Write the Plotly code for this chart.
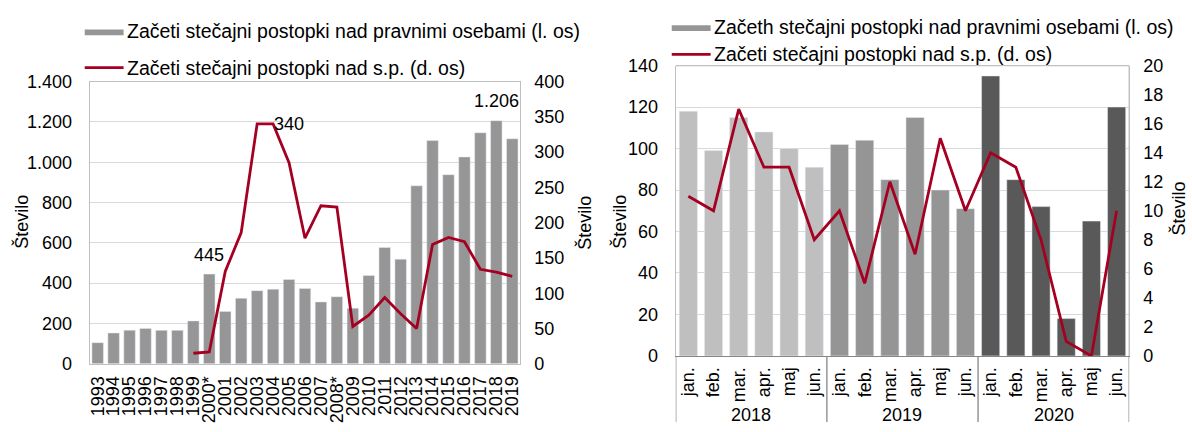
import plotly.graph_objects as go

# ---------------- data ----------------
years = ["1993", "1994", "1995", "1996", "1997", "1998", "1999", "2000*", "2001", "2002",
         "2003", "2004", "2005", "2006", "2007", "2008*", "2009", "2010", "2011", "2012",
         "2013", "2014", "2015", "2016", "2017", "2018", "2019"]
legal_persons = [105, 153, 167, 175, 166, 166, 213, 445, 260, 325,
                 363, 370, 418, 374, 307, 333, 276, 438, 577, 519,
                 883, 1107, 938, 1026, 1146, 1206, 1116]
sole_prop = [None, None, None, None, None, None, 15, 17, 131, 186,
             340, 340, 285, 178, 224, 222, 53, 69, 94, 71,
             50, 169, 179, 173, 134, 130, 124]

months = ["jan.", "feb.", "mar.", "apr.", "maj", "jun."] * 3
month_years = ["2018"] * 6 + ["2019"] * 6 + ["2020"] * 6
year_groups = ["2018", "2019", "2020"]
legal_monthly = [118, 99, 115, 108, 100, 91,
                 102, 104, 85, 115, 80, 71,
                 135, 85, 72, 18, 65, 120]
sp_monthly = [11, 10, 17, 13, 13, 8,
              10, 5, 12, 7, 15, 10,
              14, 13, 8, 1, 0, 10]

legend_bar = "Začeti stečajni postopki nad pravnimi osebami (l. os)"
legend_bar_r = "Začeth stečajni postopki nad pravnimi osebami (l. os)"
legend_line = "Začeti stečajni postopki nad s.p. (d. os)"
axis_title = "Število"

# ---------------- style ----------------
W, H = 1192, 432
FONT = "Liberation Sans, Arial, sans-serif"
FS = 18
LEG_FS = 19.5
BAR_GREY = "#969696"
YEAR_COLORS = {"2018": "#BFBFBF", "2019": "#959595", "2020": "#595959"}
RED = "#A50021"
LINE_W = 2.8
GRID = "#D9D9D9"
FRAME = "#BFBFBF"
STANDOFF = 13


def px_x(x):
    return x / W


def px_y(y):
    return 1 - y / H


L_X = [px_x(88), px_x(520)]
L_Y = [px_y(371), px_y(75)]
R_X = [px_x(676), px_x(1131)]
R_Y = [px_y(362.7), px_y(58.3)]

fig = go.Figure()

# Left chart (numeric positions, year labels as tick text)
lx = list(range(len(years)))
fig.add_trace(go.Bar(x=lx, y=legal_persons, marker_color=BAR_GREY, xaxis="x", yaxis="y",
                     showlegend=False))
fig.add_trace(go.Scatter(x=lx, y=sole_prop, mode="lines", line=dict(color=RED, width=LINE_W),
                         xaxis="x", yaxis="y2", showlegend=False, connectgaps=False))

# Right chart
xi = list(range(len(months)))
fig.add_trace(go.Bar(x=xi, y=legal_monthly, marker_color=[YEAR_COLORS[y] for y in month_years],
                     xaxis="x3", yaxis="y3", showlegend=False))
fig.add_trace(go.Scatter(x=xi, y=sp_monthly, mode="lines", line=dict(color=RED, width=LINE_W),
                         xaxis="x3", yaxis="y4", showlegend=False))

tickfont = dict(family=FONT, size=FS, color="#000000")

fig.update_layout(
    width=W, height=H,
    margin=dict(l=0, r=0, t=0, b=0),
    paper_bgcolor="white", plot_bgcolor="white",
    separators=",.",
    bargap=0.28,
    font=dict(family=FONT, size=FS, color="#000000"),
    xaxis=dict(domain=L_X, anchor="y", range=[-0.5, len(years) - 0.5], tickvals=lx, ticktext=years,
               tickangle=-90, tickfont=tickfont, ticklabelstandoff=4,
               showline=True, linecolor=FRAME, linewidth=1.3, mirror=True, ticks="", showgrid=False,
               zeroline=False),
    yaxis=dict(domain=L_Y, anchor="x", range=[0, 1400], dtick=200, tickformat=",d", tickfont=tickfont,
               showgrid=True, gridcolor=GRID, gridwidth=1.3, showline=True, linecolor=FRAME, linewidth=1.3,
               mirror=True, ticks="", zeroline=False, ticklabelstandoff=STANDOFF),
    yaxis2=dict(overlaying="y", side="right", anchor="x", range=[0, 400], dtick=50, tickfont=tickfont,
                showgrid=False, zeroline=False, ticks="", ticklabelstandoff=STANDOFF),
    xaxis3=dict(domain=R_X, anchor="y3", range=[-0.5, len(months) - 0.5], tickvals=xi, ticktext=months,
                tickangle=-90, tickfont=tickfont, ticklabelstandoff=3, showline=True, linecolor="#868686",
                linewidth=1.3, ticks="", showgrid=False, zeroline=False),
    yaxis3=dict(domain=R_Y, anchor="x3", range=[0, 140], dtick=20, tickfont=tickfont,
                showgrid=True, gridcolor=GRID, gridwidth=1.3, showline=True, linecolor=FRAME, linewidth=1.3,
                mirror=True, ticks="", zeroline=False, ticklabelstandoff=STANDOFF),
    yaxis4=dict(overlaying="y3", side="right", anchor="x3", range=[0, 20], dtick=2, tickfont=tickfont,
                showgrid=False, zeroline=False, ticks="", ticklabelstandoff=STANDOFF),
)

shapes = []
ann = []

# right chart frame top / right
shapes.append(dict(type="line", xref="x3", yref="paper", x0=17.5, x1=17.5, y0=R_Y[0], y1=R_Y[1],
                   line=dict(color=FRAME, width=1.3)))
shapes.append(dict(type="line", xref="x3", yref="paper", x0=-0.5, x1=17.5, y0=R_Y[1], y1=R_Y[1],
                   line=dict(color=FRAME, width=1.3)))

# year group separators and labels
for g, yr in enumerate(year_groups):
    shapes.append(dict(type="line", xref="x3", yref="paper", x0=g * 6 - 0.5, x1=g * 6 - 0.5,
                       y0=0, y1=R_Y[0], line=dict(color="#868686", width=1.3)))
    ann.append(dict(xref="x3", yref="paper", x=g * 6 + 2.5, y=px_y(425), text=yr, showarrow=False,
                    font=dict(family=FONT, size=FS), xanchor="center", yanchor="middle"))
shapes.append(dict(type="line", xref="x3", yref="paper", x0=17.5, x1=17.5, y0=0, y1=R_Y[0],
                   line=dict(color="#868686", width=1.3)))

# axis titles
for x, y in [(20, 222), (585, 223), (620, 222), (1180, 208)]:
    ann.append(dict(xref="paper", yref="paper", x=px_x(x), y=px_y(y), text=axis_title, textangle=-90,
                    showarrow=False, font=dict(family=FONT, size=FS), xanchor="center", yanchor="middle",
                    borderpad=0))

# data labels (left chart)
fmt = lambda v: f"{v:,}".replace(",", ".")
i2000 = years.index("2000*")
ann.append(dict(xref="x", yref="y", x=i2000, y=legal_persons[i2000], text=fmt(legal_persons[i2000]),
                showarrow=False, yanchor="bottom", yshift=7, font=dict(family=FONT, size=FS)))
i2018 = years.index("2018")
ann.append(dict(xref="x", yref="y", x=i2018, y=legal_persons[i2018], text=fmt(legal_persons[i2018]),
                showarrow=False, yanchor="bottom", yshift=8, font=dict(family=FONT, size=FS)))
i2004 = years.index("2004")
ann.append(dict(xref="x", yref="y2", x=i2004, y=sole_prop[i2004], text=fmt(sole_prop[i2004]),
                showarrow=False, xanchor="left", yanchor="middle", xshift=-1, font=dict(family=FONT, size=FS)))


# manual legends
def legend(x_icon, y1, y2, bar_text):
    shapes.append(dict(type="rect", xref="paper", yref="paper", x0=px_x(x_icon), x1=px_x(x_icon + 39),
                       y0=px_y(y1 + 4), y1=px_y(y1 - 2), fillcolor=BAR_GREY, line=dict(width=0)))
    ann.append(dict(xref="paper", yref="paper", x=px_x(x_icon + 40), y=px_y(y1), text=bar_text,
                    showarrow=False, xanchor="left", yanchor="middle", font=dict(family=FONT, size=LEG_FS)))
    shapes.append(dict(type="line", xref="paper", yref="paper", x0=px_x(x_icon), x1=px_x(x_icon + 39),
                       y0=px_y(y2), y1=px_y(y2), line=dict(color=RED, width=LINE_W)))
    ann.append(dict(xref="paper", yref="paper", x=px_x(x_icon + 40), y=px_y(y2), text=legend_line,
                    showarrow=False, xanchor="left", yanchor="middle", font=dict(family=FONT, size=LEG_FS)))


legend(83, 22.5, 60.5, legend_bar)
legend(672, 18, 46.5, legend_bar_r)

fig.update_layout(shapes=shapes, annotations=ann)
fig.write_html(
    "out.html",
    config={"displayModeBar": False},
    post_script="document.body.style.margin='0';document.body.style.overflow='hidden';",
)
